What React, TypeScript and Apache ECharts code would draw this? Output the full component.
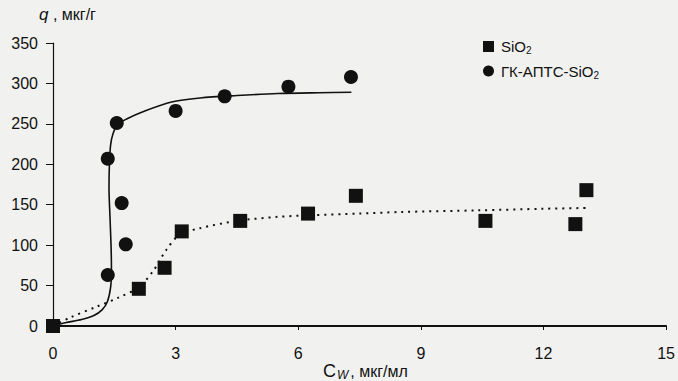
import React, { useEffect, useRef } from "react";
import * as echarts from "echarts";

const xTicks = [0, 3, 6, 9, 12, 15];
const yTicks = [0, 50, 100, 150, 200, 250, 300, 350];

const sio2Points: [number, number][] = [
  [0, 0], [2.1, 46], [2.73, 72], [3.15, 117], [4.58, 130], [6.24, 139],
  [7.41, 161], [10.58, 130], [12.78, 126], [13.05, 168],
];
const gkPoints: [number, number][] = [
  [1.34, 63], [1.78, 101], [1.68, 152], [1.34, 207], [1.56, 251],
  [3.0, 266], [4.2, 284], [5.76, 296], [7.29, 308],
];
const gkFit: [number, number][] = [
  [0, 0], [0.3, 4], [0.7, 8], [1.0, 13], [1.2, 20], [1.33, 30], [1.41, 48],
  [1.43, 70], [1.42, 100], [1.39, 140], [1.37, 170], [1.38, 200], [1.41, 224],
  [1.47, 238], [1.58, 249], [1.8, 256], [2.2, 265], [2.9, 277], [3.6, 282],
  [4.5, 285], [5.5, 287.5], [6.5, 288.5], [7.3, 289],
];
const sio2Fit: [number, number][] = [
  [0, 0], [0.4, 10], [1.07, 24], [1.6, 35], [2.1, 48], [2.45, 68], [2.77, 94],
  [3.1, 113], [3.6, 121], [4.5, 130], [5.5, 135], [6.3, 137], [7.5, 139],
  [8.5, 141], [10.4, 143], [12, 145], [13.1, 146],
];

const INK = "#111";
const FONT = "Liberation Sans, Arial, sans-serif";

export default function App() {
  const ref = useRef<HTMLDivElement>(null);
  useEffect(() => {
    if (!ref.current) return;
    const chart = echarts.init(ref.current, null, { renderer: "svg" });
    chart.setOption({
      animation: false,
      backgroundColor: "#f1f1ef",
      textStyle: { fontFamily: FONT, color: INK },
      grid: { left: 53, right: 10, top: 43, bottom: 55, containLabel: false },
      xAxis: {
        type: "value",
        min: xTicks[0],
        max: xTicks[xTicks.length - 1],
        interval: 3,
        axisLine: { show: true, onZero: false, lineStyle: { color: INK, width: 2 } },
        axisTick: { show: true, length: 4, lineStyle: { color: INK, width: 1 } },
        axisLabel: { color: INK, fontSize: 16, margin: 19, fontFamily: FONT },
        splitLine: { show: false },
      },
      yAxis: {
        type: "value",
        min: yTicks[0],
        max: yTicks[yTicks.length - 1],
        interval: 50,
        axisLine: { show: true, lineStyle: { color: INK, width: 1.2 } },
        axisTick: { show: true, length: 7, lineStyle: { color: INK, width: 1 } },
        axisLabel: { color: INK, fontSize: 16, margin: 15, fontFamily: FONT },
        splitLine: { show: false },
      },
      legend: {
        orient: "vertical",
        left: 478,
        top: 34,
        itemGap: 8,
        itemWidth: 11,
        itemHeight: 11,
        data: [
          { name: "SiO2", icon: "rect", itemStyle: { color: INK, opacity: 1 } },
          { name: "ГК-АПТС-SiO2", icon: "circle", itemStyle: { color: INK, opacity: 1 } },
        ],
        formatter: (name: string) => name.replace("SiO2", "SiO{sub|2}"),
        textStyle: {
          color: INK,
          fontSize: 15,
          fontFamily: FONT,
          padding: [0, 0, 0, 2],
          rich: {
            sub: { fontSize: 10, verticalAlign: "bottom", padding: [8, 0, 0, 0], color: INK, fontFamily: FONT },
          },
        },
      },
      graphic: [
        {
          type: "text",
          left: 39,
          top: 6,
          style: {
            text: "{i|q} , мкг/г",
            font: `16px ${FONT}`,
            fill: INK,
            rich: { i: { fontStyle: "italic", fontSize: 17, fontFamily: FONT, fill: INK } },
          },
        },
        {
          type: "text",
          left: 323,
          top: 362,
          style: {
            text: "{c|C}{w|W}, мкг/мл",
            font: `16px ${FONT}`,
            fill: INK,
            rich: {
              c: { fontSize: 18, fontFamily: FONT, fill: INK },
              w: { fontSize: 12, fontStyle: "italic", fontFamily: FONT, fill: INK, padding: [8, 2, 0, 1] },
            },
          },
        },
      ],
      series: [
        {
          name: "gkFit",
          type: "line",
          data: gkFit,
          smooth: 0.3,
          showSymbol: false,
          symbol: "none",
          lineStyle: { color: INK, width: 1.6 },
          silent: true,
          z: 1,
        },
        {
          name: "sio2Fit",
          type: "line",
          data: sio2Fit,
          smooth: 0.3,
          showSymbol: false,
          symbol: "none",
          lineStyle: { color: INK, width: 2, type: [2, 5] },
          silent: true,
          z: 1,
        },
        {
          name: "SiO2",
          type: "scatter",
          data: sio2Points,
          symbol: "rect",
          symbolSize: 14,
          itemStyle: { color: INK, opacity: 1 },
          clip: false,
          z: 3,
        },
        {
          name: "ГК-АПТС-SiO2",
          type: "scatter",
          data: gkPoints,
          symbol: "circle",
          symbolSize: 14,
          itemStyle: { color: INK, opacity: 1 },
          clip: false,
          z: 3,
        },
      ],
    });
    return () => chart.dispose();
  }, []);
  return (
    <div
      ref={ref}
      style={{ position: "fixed", left: 0, top: 0, width: 678, height: 381 }}
    />
  );
}
